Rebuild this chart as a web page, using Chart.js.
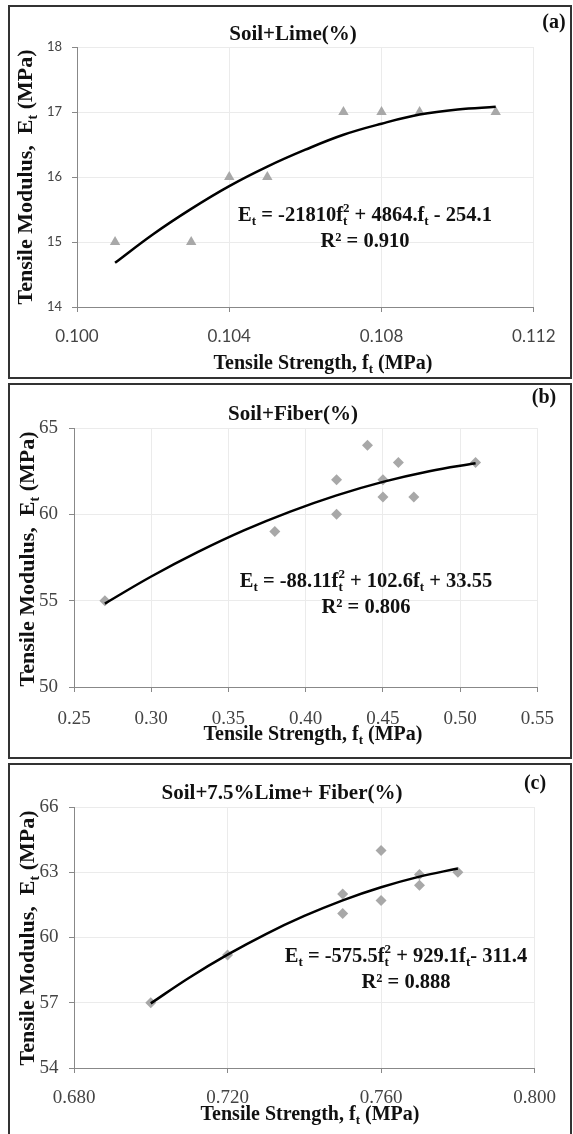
<!DOCTYPE html>
<html>
<head>
<meta charset="utf-8">
<script src="https://cdn.jsdelivr.net/npm/chart.js@4.4.0/dist/chart.umd.min.js"></script>
<style>
  body { margin: 0; background: #fff; }
  .panel { position: absolute; left: 8px; width: 560px; border: 2px solid #333; background: #fff; }
  .panel canvas { display: block; }
</style>
</head>
<body>
<div class="panel" style="top:5px;height:370px"><canvas id="chartA" width="560" height="370"></canvas></div>
<div class="panel" style="top:383px;height:372px"><canvas id="chartB" width="560" height="372"></canvas></div>
<div class="panel" style="top:763px;height:369px"><canvas id="chartC" width="560" height="369"></canvas></div>
<script>
// (a) soil + lime
const limeStrength = [0.101, 0.103, 0.104, 0.105, 0.107, 0.108, 0.109, 0.111];
const limeModulus = [15, 15, 16, 16, 17, 17, 17, 17];
const limeFitX = [0.101, 0.102, 0.103, 0.104, 0.105, 0.106, 0.107, 0.108, 0.109, 0.110, 0.111];
const limeFitY = [14.68, 15.12, 15.51, 15.86, 16.16, 16.42, 16.65, 16.82, 16.96, 17.04, 17.08];
const limeXTicks = [0.100, 0.104, 0.108, 0.112];
const limeYTicks = [14, 15, 16, 17, 18];

// (b) soil + fiber
const fiberStrength = [0.27, 0.38, 0.42, 0.42, 0.44, 0.45, 0.45, 0.46, 0.47, 0.51];
const fiberModulus = [55, 59, 62, 60, 64, 62, 61, 63, 61, 63];
const fiberFitX = [0.27, 0.30, 0.33, 0.36, 0.39, 0.42, 0.45, 0.48, 0.51];
const fiberFitY = [54.83, 56.40, 57.81, 59.07, 60.16, 61.10, 61.88, 62.50, 62.96];
const fiberXTicks = [0.25, 0.30, 0.35, 0.40, 0.45, 0.50, 0.55];
const fiberYTicks = [50, 55, 60, 65];

// (c) soil + 7.5% lime + fiber
const mixStrength = [0.70, 0.72, 0.75, 0.75, 0.76, 0.76, 0.77, 0.77, 0.78];
const mixModulus = [57, 59.2, 62, 61.1, 64, 61.7, 62.9, 62.4, 63];
const mixFitX = [0.70, 0.71, 0.72, 0.73, 0.74, 0.75, 0.76, 0.77, 0.78];
const mixFitY = [56.97, 58.15, 59.21, 60.16, 60.99, 61.71, 62.31, 62.80, 63.17];
const mixXTicks = [0.68, 0.72, 0.76, 0.80];
const mixYTicks = [54, 57, 60, 63, 66];

const SERIF = "'Liberation Serif', 'Times New Roman', serif";
const SANS = "Lato, 'Open Sans', sans-serif";

// "_x" = subscript char, "_x^y" = subscript with stacked superscript
function parseRich(str) {
  const parts = [];
  for (let i = 0; i < str.length; i++) {
    const ch = str[i];
    if (ch === "_") {
      const p = { sub: str[i + 1] };
      i++;
      if (str[i + 1] === "^") {
        p.sup = str[i + 2];
        i += 2;
      }
      parts.push(p);
    } else if (typeof parts[parts.length - 1] === "string") {
      parts[parts.length - 1] += ch;
    } else {
      parts.push(ch);
    }
  }
  return parts;
}

function drawRich(ctx, str, cx, cy, size) {
  const parts = parseRich(str);
  const big = "bold " + size + "px " + SERIF;
  const small = "bold " + Math.round(size * 0.65) + "px " + SERIF;
  const widths = parts.map((p) => {
    if (typeof p === "string") {
      ctx.font = big;
      return ctx.measureText(p).width;
    }
    ctx.font = small;
    return Math.max(ctx.measureText(p.sub).width, p.sup ? ctx.measureText(p.sup).width : 0);
  });
  let x = cx - widths.reduce((a, b) => a + b, 0) / 2;
  const base = cy + size * 0.33;
  ctx.textAlign = "left";
  ctx.textBaseline = "alphabetic";
  parts.forEach((p, i) => {
    if (typeof p === "string") {
      ctx.font = big;
      ctx.fillText(p, x, base);
    } else {
      ctx.font = small;
      ctx.fillText(p.sub, x, base + size * 0.22);
      if (p.sup) ctx.fillText(p.sup, x, base - size * 0.42);
    }
    x += widths[i];
  });
}

const panelText = {
  id: "panelText",
  afterDraw(chart, args, o) {
    const ctx = chart.ctx;
    ctx.save();
    ctx.fillStyle = "#111";
    drawRich(ctx, o.title, o.titlePos[0], o.titlePos[1], 21);
    drawRich(ctx, o.tag, o.tagPos[0], o.tagPos[1], 20);
    drawRich(ctx, "Tensile Strength, f_t (MPa)", o.xTitlePos[0], o.xTitlePos[1], 20);
    drawRich(ctx, o.eq, o.eqPos[0], o.eqPos[1], 20.5);
    drawRich(ctx, o.r2, o.eqPos[0], o.eqPos[1] + 26, 20.5);
    ctx.translate(o.yTitlePos[0], o.yTitlePos[1]);
    ctx.rotate(-Math.PI / 2);
    drawRich(ctx, "Tensile Modulus,  E_t (MPa)", 0, 0, 22);
    ctx.restore();
  },
};

function makeChart(id, c) {
  const pts = c.xs.map((x, i) => ({ x: x, y: c.ys[i] }));
  const fit = c.fitX.map((x, i) => ({ x: x, y: c.fitY[i] }));
  return new Chart(document.getElementById(id), {
    type: "scatter",
    data: {
      datasets: [
        {
          type: "line",
          data: fit,
          borderColor: "#000",
          borderWidth: 2.5,
          pointRadius: 0,
          tension: 0.4,
          fill: false,
          order: 0,
        },
        {
          data: pts,
          pointStyle: c.marker,
          pointRadius: c.marker === "triangle" ? 6 : 5.5,
          backgroundColor: "#a8a8a8",
          borderColor: "#a8a8a8",
          borderWidth: 0,
          order: 1,
        },
      ],
    },
    options: {
      responsive: false,
      animation: false,
      events: [],
      layout: { padding: { left: 0, top: c.top, right: c.right, bottom: 0 } },
      plugins: {
        legend: { display: false },
        tooltip: { enabled: false },
        panelText: c.text,
      },
      scales: {
        x: {
          type: "linear",
          min: c.xTicks[0],
          max: c.xTicks[c.xTicks.length - 1],
          afterBuildTicks: (s) => { s.ticks = c.xTicks.map((v) => ({ value: v })); },
          afterFit: (s) => { s.height = c.xHeight; },
          ticks: {
            font: c.xFont,
            color: "#444",
            padding: c.xPad,
            maxRotation: 0,
            callback: (v) => v.toFixed(c.dec),
          },
          grid: { color: "#ebebeb", tickColor: "#888", tickLength: 5 },
          border: { color: "#888", width: 1 },
        },
        y: {
          min: c.yTicks[0],
          max: c.yTicks[c.yTicks.length - 1],
          afterBuildTicks: (s) => { s.ticks = c.yTicks.map((v) => ({ value: v })); },
          afterFit: (s) => { s.width = c.yWidth; },
          ticks: { font: c.yFont, color: "#444", padding: c.yPad },
          grid: { color: "#ebebeb", tickColor: "#888", tickLength: 5 },
          border: { color: "#888", width: 1 },
        },
      },
    },
    plugins: [panelText],
  });
}

makeChart("chartA", {
  xs: limeStrength, ys: limeModulus, fitX: limeFitX, fitY: limeFitY,
  xTicks: limeXTicks, yTicks: limeYTicks, dec: 3, marker: "triangle",
  top: 40, right: 24, xHeight: 70, yWidth: 67, xPad: 14.5, yPad: 10,
  xFont: { family: SANS, size: 17 }, yFont: { family: SANS, size: 13 },
  text: {
    title: "Soil+Lime(%)", titlePos: [283, 26],
    tag: "(a)", tagPos: [544, 14],
    xTitlePos: [313, 355], yTitlePos: [15, 170],
    eq: "E_t = -21810f_t^2 + 4864.f_t - 254.1", r2: "R\u00b2 = 0.910", eqPos: [355, 207],
  },
});

makeChart("chartB", {
  xs: fiberStrength, ys: fiberModulus, fitX: fiberFitX, fitY: fiberFitY,
  xTicks: fiberXTicks, yTicks: fiberYTicks, dec: 2, marker: "rectRot",
  top: 43, right: 22, xHeight: 70, yWidth: 64, xPad: 16, yPad: 11,
  xFont: { family: SERIF, size: 19 }, yFont: { family: SERIF, size: 19 },
  text: {
    title: "Soil+Fiber(%)", titlePos: [283, 28],
    tag: "(b)", tagPos: [534, 11],
    xTitlePos: [303, 348], yTitlePos: [17, 174],
    eq: "E_t = -88.11f_t^2 + 102.6f_t + 33.55", r2: "R\u00b2 = 0.806", eqPos: [356, 195],
  },
});

makeChart("chartC", {
  xs: mixStrength, ys: mixModulus, fitX: mixFitX, fitY: mixFitY,
  xTicks: mixXTicks, yTicks: mixYTicks, dec: 3, marker: "rectRot",
  top: 42, right: 24, xHeight: 66, yWidth: 64, xPad: 14, yPad: 10.5,
  xFont: { family: SERIF, size: 19 }, yFont: { family: SERIF, size: 19 },
  text: {
    title: "Soil+7.5%Lime+ Fiber(%)", titlePos: [272, 27],
    tag: "(c)", tagPos: [525, 17],
    xTitlePos: [300, 348], yTitlePos: [17, 173],
    eq: "E_t = -575.5f_t^2 + 929.1f_t- 311.4", r2: "R\u00b2 = 0.888", eqPos: [396, 190],
  },
});
</script>
</body>
</html>
